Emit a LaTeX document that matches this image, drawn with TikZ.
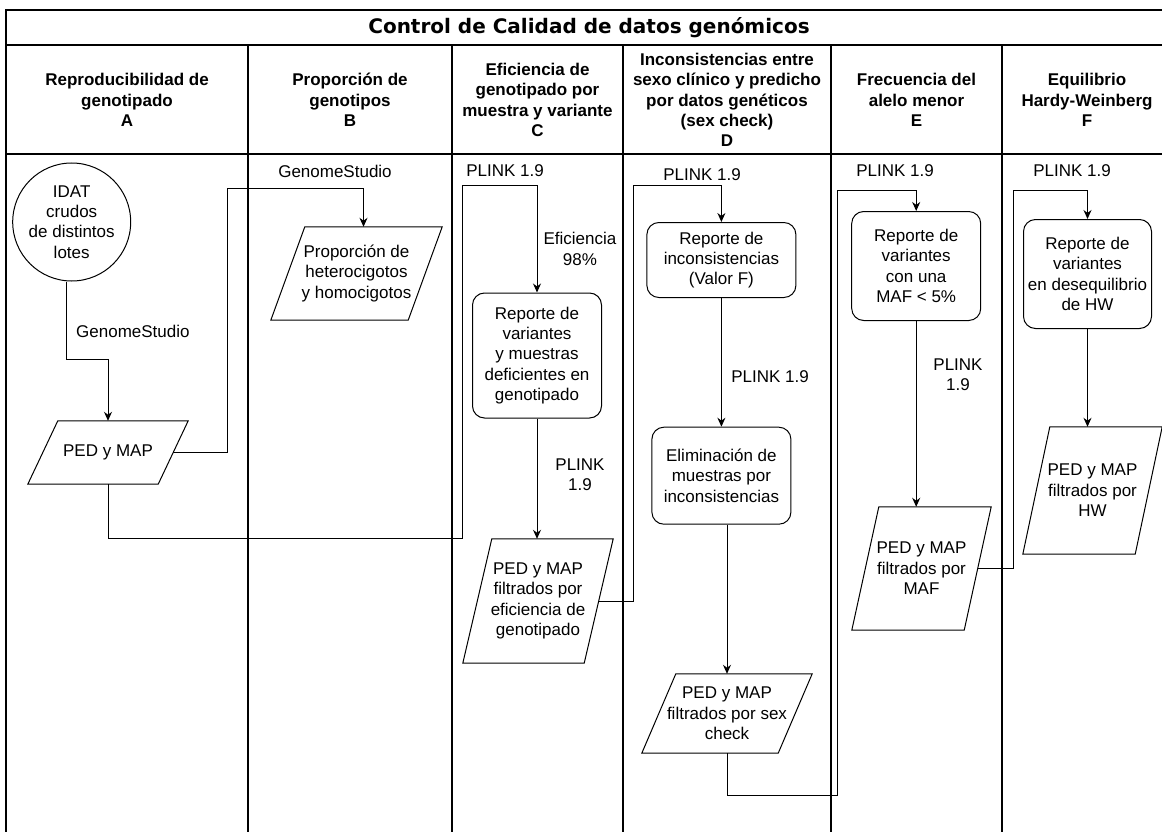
\documentclass[tikz,border=0pt]{standalone}
\usepackage{fontspec}
\setmainfont{Liberation Sans}
\newfontfamily\titulofont{DejaVu Sans}
\usetikzlibrary{arrows.meta}
\tikzset{
	flecha/.style={-{Stealth[length=9pt,width=8pt]},line width=1pt},
	texto/.style={font=\fontsize{17}{20.4}\selectfont,align=center,inner sep=2pt},
	proceso/.style={texto,draw,line width=1pt,rounded corners=12pt},
	inicio/.style={texto,draw,circle,line width=1pt,minimum size=118pt,inner sep=0pt},
	datos/.style={texto,inner sep=0pt},
	borde/.style={line width=1pt},
	encabezado/.style={font=\fontsize{17}{20.4}\selectfont\bfseries,align=center},
	marco/.style={line width=1.2pt}
}
\begin{document}
\begin{tikzpicture}[x=1pt,y=-1pt]
	\useasboundingbox (0,0) rectangle (1162,832);
	\draw[marco] (6,832) -- (6,10) -- (1172,10) (6,45) -- (1172,45) (6,154) -- (1172,154);
	\foreach \xl in {248,452,623,831,1002}
		\draw[marco] (\xl,45) -- (\xl,832);
	\node[font=\titulofont\fontsize{20}{24}\selectfont\bfseries] (titulo) at (589,28) {Control de Calidad de datos genómicos};
	\node[encabezado] (colA) at (127,100) {Reproducibilidad de\\genotipado\\A};
	\node[encabezado] (colB) at (350,100) {Proporción de\\genotipos\\B};
	\node[encabezado] (colC) at (537.5,100) {Eficiencia de\\genotipado por\\muestra y variante\\C};
	\node[encabezado] (colD) at (727,100) {Inconsistencias entre\\sexo clínico y predicho\\por datos genéticos\\(sex check)\\D};
	\node[encabezado] (colE) at (916.5,100) {Frecuencia del\\alelo menor\\E};
	\node[encabezado] (colF) at (1087,100) {Equilibrio\\Hardy-Weinberg\\F};

	\node[inicio] (idat) at (71.7,222) {IDAT\\crudos\\de distintos\\lotes};
	\node[datos,minimum width=160pt,minimum height=63pt] (pedA) at (108,452.5) {PED y MAP};
	\node[datos,minimum width=171pt,minimum height=93pt] (propB) at (356.5,273.5) {Proporción de\\heterocigotos\\y homocigotos};
	\node[proceso,minimum width=129pt,minimum height=125pt] (repC) at (537,355.5) {Reporte de\\variantes\\y muestras\\deficientes en\\genotipado};
	\node[datos,minimum width=150pt,minimum height=124pt] (pedC) at (538,601) {PED y MAP\\filtrados por\\eficiencia de\\genotipado};
	\node[proceso,minimum width=149pt,minimum height=75pt] (repD) at (721.4,260) {Reporte de\\inconsistencias\\(Valor F)};
	\node[proceso,minimum width=139pt,minimum height=97pt] (elimD) at (721.4,475.7) {Eliminación de\\muestras por\\inconsistencias};
	\node[datos,minimum width=170pt,minimum height=79pt] (pedD) at (727,713.5) {PED y MAP\\filtrados por sex\\check};
	\node[proceso,minimum width=129pt,minimum height=109pt] (repE) at (916.2,266) {Reporte de\\variantes\\con una\\MAF < 5\%};
	\node[datos,minimum width=139pt,minimum height=123pt] (pedE) at (921.5,568.5) {PED y MAP\\filtrados por\\MAF};
	\node[proceso,minimum width=128pt,minimum height=109pt] (repF) at (1087.5,274) {Reporte de\\variantes\\en desequilibrio\\de HW};
	\node[datos,minimum width=139pt,minimum height=127pt] (pedF) at (1092.5,490.5) {PED y MAP\\filtrados por\\HW};
	\foreach \n/\s in {pedA/30,propB/34,pedC/29,pedD/34,pedE/27,pedF/27}
		\draw[borde] ([xshift=\s pt]\n.north west) -- (\n.north east) -- ([xshift=-\s pt]\n.south east) -- (\n.south west) -- cycle;

	\node[texto,anchor=west] (lblA) at (74,331) {GenomeStudio};
	\node[texto] (lblB) at (335,171) {GenomeStudio};
	\node[texto] (lblC1) at (505,171) {PLINK 1.9};
	\node[texto] (lblC2) at (580,249) {Eficiencia\\98\%};
	\node[texto] (lblC3) at (580,475) {PLINK\\1.9};
	\node[texto] (lblD1) at (702,175) {PLINK 1.9};
	\node[texto] (lblD2) at (770,377) {PLINK 1.9};
	\node[texto] (lblE1) at (895,171) {PLINK 1.9};
	\node[texto] (lblE2) at (958,375) {PLINK\\1.9};
	\node[texto] (lblF1) at (1072,171) {PLINK 1.9};

	\draw[flecha] ([xshift=-5pt]idat.south) -- ++(0,78) -| (pedA.north);
	\draw[flecha] ([xshift=-15pt]pedA.east) -| (227,188) -| ([xshift=7pt]propB.north);
	\draw[flecha] (pedA.south) |- (462,538) -- (462,185) -| (repC.north);
	\draw[flecha] (repC.south) -- (repC.south |- pedC.north);
	\draw[flecha] ([xshift=-14.5pt]pedC.east) -| (633,185) -| (repD.north);
	\draw[flecha] (repD.south) -- (repD.south |- elimD.north);
	\draw[flecha] (elimD.south -| pedD.north) -- (pedD.north);
	\draw[flecha] (pedD.south) |- (837,795) -- (837,190) -| (repE.north);
	\draw[flecha] (repE.south) -- (repE.south |- pedE.north);
	\draw[flecha] ([xshift=-13.5pt]pedE.east) -| (1013,190) -| (repF.north);
	\draw[flecha] (repF.south) -- (repF.south |- pedF.north);
\end{tikzpicture}
\end{document}
